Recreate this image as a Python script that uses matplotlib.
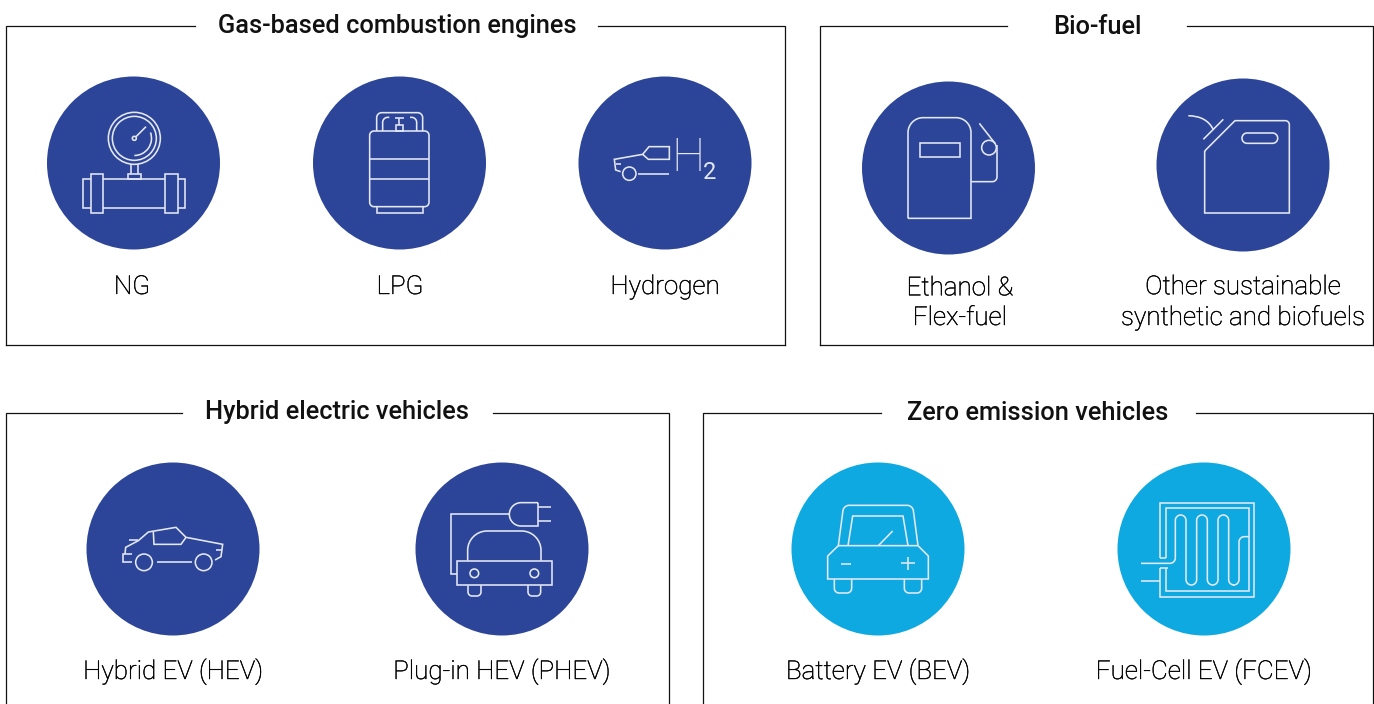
import matplotlib
matplotlib.use('Agg')
import matplotlib.pyplot as plt
import matplotlib.patheffects as pe
from matplotlib.patches import Circle, Arc, PathPatch
from matplotlib.path import Path

plt.rcParams['font.family'] = ['Roboto', 'DejaVu Sans']

NAVY = '#2c4599'
CYAN = '#0fa9e2'
INK = '#111111'
ICON = '#e4e8f3'

group_titles = ['Gas-based combustion engines', 'Bio-fuel', 'Hybrid electric vehicles', 'Zero emission vehicles']
title_x = [397, 1097, 337, 1038]
title_y = [33, 34, 419, 420]
# left, right, top, bottom, gap left, gap right
boxes = [(6, 785, 26, 345, 195, 598), (820, 1373, 26, 345, 1007, 1187),
         (6, 669, 413, 720, 182, 493), (703, 1373, 413, 720, 881, 1196)]

circle_x = [133.5, 399.5, 665, 948.5, 1243, 173, 502, 878, 1204]
circle_y = [163, 163, 163, 168, 165, 549, 549, 549, 549]
circle_col = [NAVY] * 7 + [CYAN] * 2

labels = ['NG', 'LPG', 'Hydrogen', 'Ethanol &\nFlex-fuel', 'Other sustainable\nsynthetic and biofuels',
          'Hybrid EV (HEV)', 'Plug-in HEV (PHEV)', 'Battery EV (BEV)', 'Fuel-Cell EV (FCEV)']
label_x = [132, 400, 665, 960, 1243, 173, 502, 878, 1204]
label_y = [294, 294, 294, 325, 325, 679, 679, 679, 679]

fig = plt.figure(figsize=(13.74, 7.04), dpi=100)
ax = fig.add_axes([0, 0, 1, 1])
ax.set_xlim(0, 1374)
ax.set_ylim(704, 0)
ax.axis('off')


def line(pts, ox, oy, r=0, closed=False, lw=1.15, col=ICON):
    # points and radii come from the 3x crops, so divide by 3 and shift to the icon origin
    p = [(ox + x / 3, oy + y / 3) for x, y in pts]
    if closed:
        p = p + [p[0]]
    radii = r if isinstance(r, list) else [r] * len(p)
    verts = [p[0]]
    codes = [Path.MOVETO]
    for i in range(1, len(p) - 1):
        a, b, c = p[i - 1], p[i], p[i + 1]
        d1 = ((a[0] - b[0]) ** 2 + (a[1] - b[1]) ** 2) ** 0.5
        d2 = ((c[0] - b[0]) ** 2 + (c[1] - b[1]) ** 2) ** 0.5
        rr = min(radii[i - 1] / 3, d1, d2)
        if rr > 0:
            s = (b[0] + (a[0] - b[0]) * rr / d1, b[1] + (a[1] - b[1]) * rr / d1)
            e = (b[0] + (c[0] - b[0]) * rr / d2, b[1] + (c[1] - b[1]) * rr / d2)
            c1 = (s[0] + (b[0] - s[0]) * 0.55, s[1] + (b[1] - s[1]) * 0.55)
            c2 = (e[0] + (b[0] - e[0]) * 0.55, e[1] + (b[1] - e[1]) * 0.55)
            verts += [s, c1, c2, e]
            codes += [Path.LINETO, Path.CURVE4, Path.CURVE4, Path.CURVE4]
        else:
            verts.append(b)
            codes.append(Path.LINETO)
    verts.append(p[-1])
    codes.append(Path.LINETO)
    ax.add_patch(PathPatch(Path(verts, codes), fc='none', ec=col, lw=lw, capstyle='butt', joinstyle='miter', zorder=3))


def rect(x0, y0, x1, y1, ox, oy, r=0, lw=1.15):
    line([(x0, (y0 + y1) / 2), (x0, y0), (x1, y0), (x1, y1), (x0, y1)], ox, oy, r=r, closed=True, lw=lw)


def ring(x, y, r, ox, oy, lw=1.15):
    ax.add_patch(Circle((ox + x / 3, oy + y / 3), r / 3, fc='none', ec=ICON, lw=lw, zorder=3))


# frames with a gap for the heading
for (l, r, t, b, g0, g1) in boxes:
    ax.plot([g0, l, l], [t, t, b], color=INK, lw=0.9, solid_joinstyle='miter')
    ax.plot([g1, r, r], [t, t, b], color=INK, lw=0.9, solid_joinstyle='miter')
    if b < 704:
        ax.plot([l, r], [b, b], color=INK, lw=0.9)

for t, x, y in zip(group_titles, title_x, title_y):
    ax.text(x, y, t, ha='center', va='baseline', fontsize=18.3, fontweight='medium', color=INK)

for x, y, c in zip(circle_x, circle_y, circle_col):
    ax.add_patch(Circle((x, y), 86.5, fc=c, ec='none', zorder=2))

for x, y, t in zip(label_x, label_y, labels):
    ax.text(x, y, t, ha='center', va='baseline', fontsize=18.7, fontweight='light', color='#000000', linespacing=1.3,
            path_effects=[pe.withStroke(linewidth=0.3, foreground='#000000')])

# NG gauge
o = (40, 70)
ring(283, 205, 78, *o)
ring(283, 205, 66, *o)
ring(283, 205, 6, *o)
line([(288, 200), (318, 170)], *o)
ax.add_patch(Arc((40 + 283 / 3, 70 + 205 / 3), 100 / 3 * 1.03, 100 / 3 * 1.03, theta1=-20, theta2=90, ec=ICON, lw=1.15, zorder=3))
line([(272, 312), (272, 282)], *o)
line([(294, 312), (294, 282)], *o)
rect(263, 312, 302, 326, *o)
line([(190, 326), (374, 326)], *o)
line([(190, 414), (374, 414)], *o)
line([(152, 326), (130, 326), (130, 414), (152, 414)], *o)
line([(414, 326), (434, 326), (434, 414), (414, 414)], *o)
rect(152, 312, 190, 430, *o)
rect(374, 312, 414, 430, *o)

# LPG bottle
o = (310, 70)
rect(179, 183, 357, 410, *o, r=13)
line([(179, 268), (357, 268)], *o)
line([(179, 326), (357, 326)], *o)
line([(200, 410), (200, 430), (338, 430), (338, 410)], *o)
line([(200, 183), (200, 128), (338, 128), (338, 183)], *o, r=15)
line([(218, 183), (218, 142), (238, 142)], *o, r=15)
line([(320, 183), (320, 142), (300, 142)], *o, r=15)
rect(258, 166, 278, 183, *o)
line([(268, 166), (268, 143)], *o)
line([(254, 143), (282, 143)], *o)

# hydrogen car
o = (575, 70)
line([(137, 305), (122, 300), (118, 268), (203, 253), (222, 230), (283, 230), (283, 268), (220, 268), (203, 253)], *o)
line([(122, 283), (137, 283)], *o)
ring(163, 311, 20, *o)
line([(190, 311), (283, 311)], *o)
ax.text(575 + 338 / 3, 70 + 265 / 3, 'H', ha='center', va='center', fontsize=34, fontweight='light', color=ICON, zorder=3)
ax.text(575 + 403 / 3, 70 + 307 / 3, '2', ha='center', va='center', fontsize=17, color=ICON, zorder=3)

# ethanol pump
o = (860, 75)
line([(144, 430), (144, 128), (333, 128), (333, 430)], *o, r=[45, 45, 0], closed=True)
rect(179, 204, 299, 246, *o)
ring(387, 218, 22, *o)
line([(358, 145), (405, 205)], *o)
line([(411, 210), (411, 320), (333, 320)], *o, r=14)

# jerrycan
o = (1155, 75)
line([(149, 228), (240, 137), (403, 137), (403, 414), (149, 414)], *o, r=[0, 12, 0, 0], closed=True)
rect(261, 174, 368, 205, *o, r=15)
line([(145, 193), (205, 133)], *o)
ax.add_patch(PathPatch(Path([(1188.3, 115.7), (1207, 116), (1213.5, 130)], [Path.MOVETO, Path.CURVE3, Path.CURVE3]),
                       fc='none', ec=ICON, lw=1.15, zorder=3))

# hybrid car
o = (85, 460)
line([(390, 300), (408, 290), (413, 253), (303, 232), (273, 202), (190, 216), (160, 242), (122, 262), (120, 282)], *o)
line([(142, 283), (114, 283), (114, 307), (142, 307)], *o)
line([(205, 216), (207, 253), (288, 253), (303, 232)], *o)
line([(132, 239), (160, 239)], *o)
line([(392, 271), (410, 271)], *o)
ring(177, 307, 25, *o)
ring(356, 307, 25, *o)
line([(217, 307), (321, 307)], *o)

# plug-in car
o = (412, 460)
line([(135, 342), (118, 342), (118, 162), (292, 162)], *o)
line([(378, 128), (292, 128), (292, 198), (378, 198)], *o, r=[35, 35, 0], closed=True)
line([(378, 142), (416, 142)], *o)
line([(378, 184), (416, 184)], *o)
rect(135, 302, 420, 376, *o)
line([(167, 302), (167, 213), (387, 213), (387, 302)], *o, r=58)
ring(187, 340, 13, *o)
ring(367, 340, 13, *o)
line([(168, 376), (168, 408), (207, 408), (207, 376)], *o, r=12)
line([(348, 376), (348, 408), (386, 408), (386, 376)], *o, r=12)

# battery car
o = (790, 460)
line([(145, 257), (161, 136), (368, 136), (384, 257)], *o, r=16)
line([(174, 257), (188, 168), (339, 168), (354, 257)], *o)
line([(145, 257), (113, 288), (113, 357), (415, 357), (415, 288), (384, 257)], *o, closed=True)
line([(265, 257), (308, 213)], *o)
line([(153, 312), (184, 312)], *o)
line([(334, 310), (374, 310)], *o)
line([(354, 290), (354, 330)], *o)
line([(133, 357), (133, 399), (185, 399), (185, 357)], *o, r=14)
line([(343, 357), (343, 399), (395, 399), (395, 357)], *o, r=14)

# fuel cell
o = (1115, 460)
line([(136, 295), (136, 128), (418, 128), (418, 410), (136, 410), (136, 325)], *o)
line([(152, 295), (152, 145), (402, 145), (402, 394), (152, 394), (152, 325)], *o)
line([(136, 295), (152, 295)], *o)
line([(136, 325), (160, 325)], *o)
line([(78, 363), (136, 363)], *o)
line([(78, 310), (181, 310), (181, 165), (213, 165), (213, 375), (245, 375), (245, 165), (277, 165), (277, 375),
      (309, 375), (309, 165), (341, 165), (341, 375), (372, 375), (372, 230), (402, 230)], *o, r=16)

fig.savefig('out.png', dpi=100)
